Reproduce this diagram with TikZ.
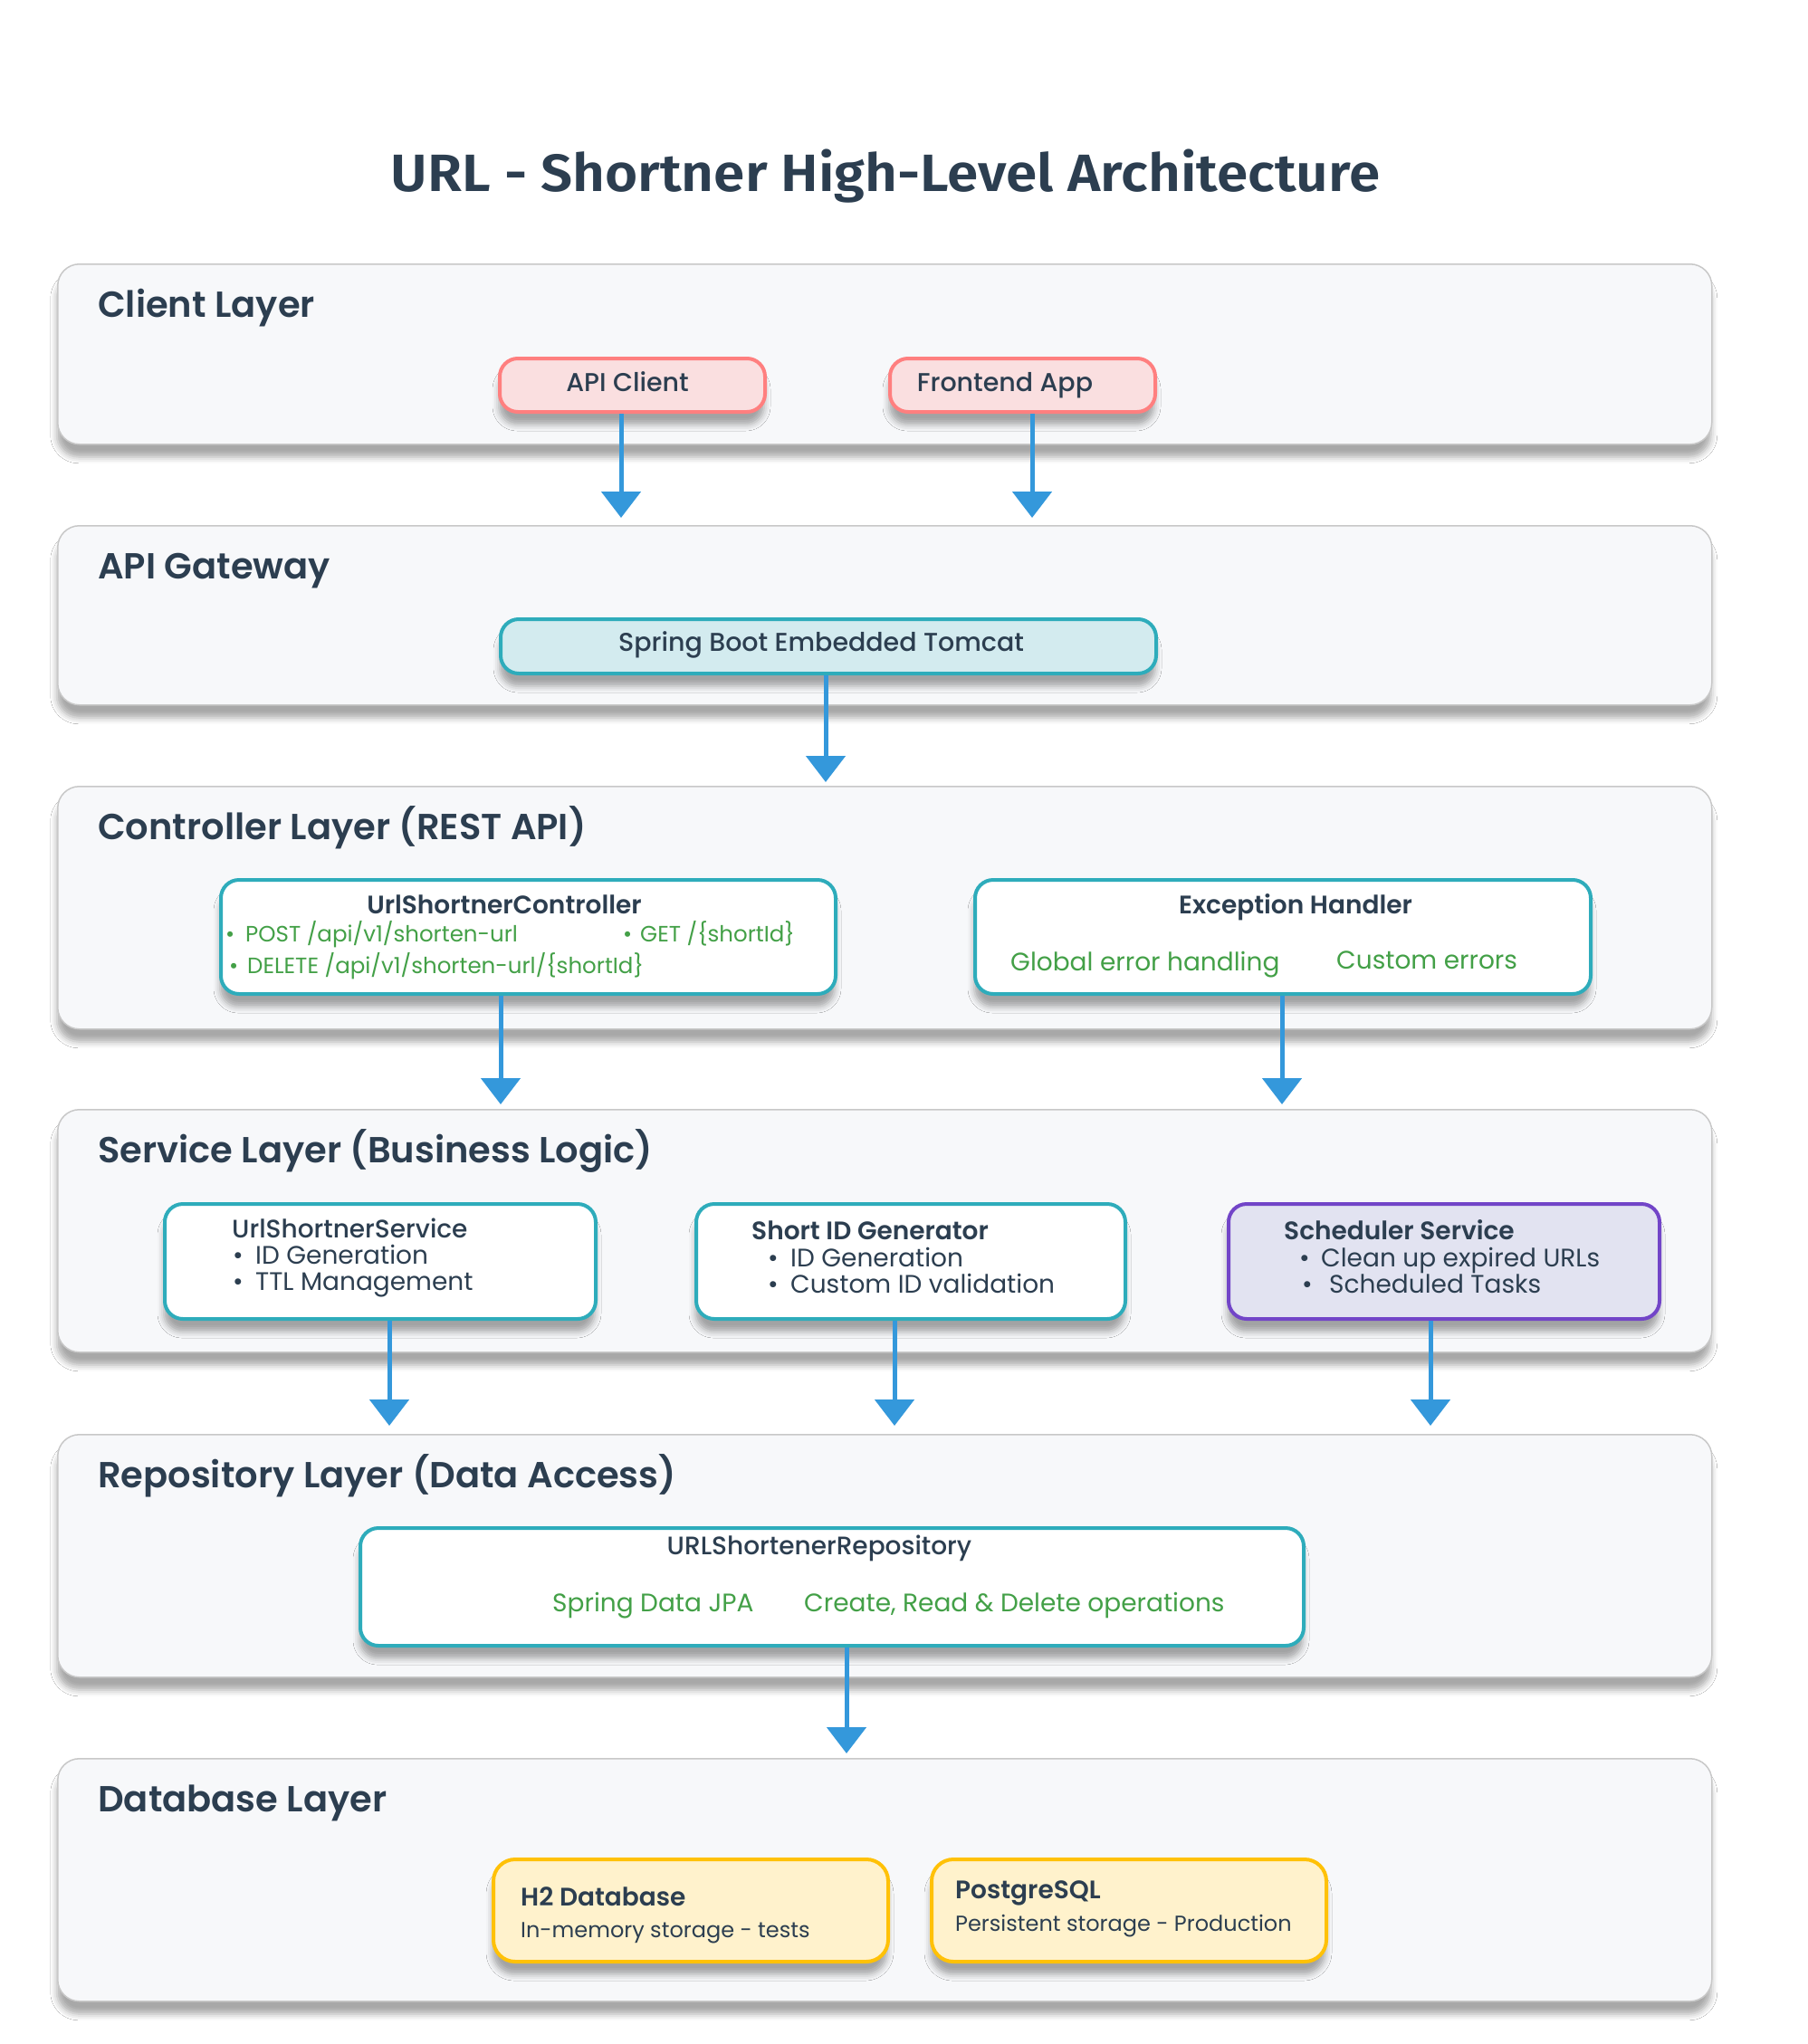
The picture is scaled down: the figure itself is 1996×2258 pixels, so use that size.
\documentclass[tikz,border=0pt]{standalone}
\usepackage{fontspec}
\setmainfont{Poppins}[BoldFont={* SemiBold}]
\newfontfamily\pmed{Poppins Medium}
\newfontfamily\psemi{Poppins SemiBold}
\newfontfamily\ptitle{Fira Sans SemiBold}[FakeStretch=1.07]
\usetikzlibrary{arrows.meta,shadows.blur}
\definecolor{txt}{HTML}{2C3E50}
\definecolor{layerfill}{HTML}{F7F8FA}
\definecolor{layerline}{HTML}{C8C8C8}
\definecolor{pinkfill}{HTML}{FADFE0}
\definecolor{pinkline}{HTML}{FF7F7F}
\definecolor{tealline}{HTML}{2EACBB}
\definecolor{cyanfill}{HTML}{D3EBEF}
\definecolor{greentxt}{HTML}{43A047}
\definecolor{purpleline}{HTML}{7245C8}
\definecolor{lavfill}{HTML}{E2E3F1}
\definecolor{yelfill}{HTML}{FFF2CC}
\definecolor{yelline}{HTML}{FFC107}
\definecolor{arrowblue}{HTML}{3498DB}
\tikzset{
  shad/.style={blur shadow={shadow xshift=-1pt, shadow yshift=-14pt, shadow blur radius=7pt, shadow opacity=34}},
  layer/.style={draw=layerline, line width=1.5pt, fill=layerfill, rounded corners=24pt, anchor=north west, inner sep=0pt, shad},
  box/.style={line width=4pt, rounded corners=20pt, anchor=north west, inner sep=0pt, shad},
  pinkbox/.style={box, draw=pinkline, fill=pinkfill},
  cyanbox/.style={box, draw=tealline, fill=cyanfill},
  whitebox/.style={box, draw=tealline, fill=white},
  purplebox/.style={box, draw=purpleline, fill=lavfill},
  yelbox/.style={box, draw=yelline, fill=yelfill, rounded corners=24pt},
  lt/.style={anchor=base west, inner sep=0pt, text=txt, font=\psemi\fontsize{40}{48}\selectfont},
  bt/.style={anchor=base, inner sep=0pt, text=txt, font=\pmed\fontsize{28.5}{34}\selectfont},
  hd/.style={inner sep=0pt, text=txt, font=\psemi\fontsize{28}{33}\selectfont},
  gs/.style={anchor=base west, inner sep=0pt, text=greentxt, font=\fontsize{24.5}{29}\selectfont},
  gl/.style={anchor=base west, inner sep=0pt, text=greentxt, font=\fontsize{28}{33}\selectfont},
  dk/.style={anchor=base west, inner sep=0pt, text=txt, font=\fontsize{28}{33}\selectfont},
  sm/.style={anchor=base west, inner sep=0pt, text=txt, font=\fontsize{24}{29}\selectfont},
  arr/.style={draw=arrowblue, line width=5pt, -{Triangle[width=43pt,length=29pt]}},
}
\begin{document}
\begin{tikzpicture}[x=1pt,y=-1pt]
\useasboundingbox[fill=white] (0,0) rectangle (1996,2258);
% title
\node[anchor=base, inner sep=0pt, text=txt, font=\ptitle\fontsize{58}{68}\selectfont] (title) at (978,212) {URL - Shortner High-Level Architecture};
% layers
\node[layer, minimum width=1827pt, minimum height=199pt] (client) at (63,291) {};
\node[layer, minimum width=1827pt, minimum height=198pt] (gateway) at (63,580) {};
\node[layer, minimum width=1827pt, minimum height=268pt] (controller) at (63,868) {};
\node[layer, minimum width=1827pt, minimum height=268pt] (service) at (63,1225) {};
\node[layer, minimum width=1827pt, minimum height=268pt] (repository) at (63,1584) {};
\node[layer, minimum width=1827pt, minimum height=268pt] (database) at (63,1942) {};
\node[lt] (lclient) at (108,350) {Client Layer};
\node[lt] (lgateway) at (108,639) {API Gateway};
\node[lt] (lcontroller) at (108,927) {Controller Layer (REST API)};
\node[lt] (lservice) at (108,1284) {Service Layer (Business Logic)};
\node[lt] (lrepository) at (108,1643) {Repository Layer (Data Access)};
\node[lt] (ldatabase) at (108,2001) {Database Layer};
% client boxes
\node[pinkbox, minimum width=293pt, minimum height=59pt] (apiclient) at (550,394) {};
\node[pinkbox, minimum width=293pt, minimum height=59pt] (frontend) at (981,394) {};
\node[bt] (tapiclient) at (693,432) {API Client};
\node[bt] (tfrontend) at (1110,432) {Frontend App};
% gateway
\node[cyanbox, minimum width=724pt, minimum height=60pt] (tomcat) at (551,682) {};
\node[bt] (ttomcat) at (907,719) {Spring Boot Embedded Tomcat};
% controller
\node[whitebox, minimum width=679pt, minimum height=126pt] (ctrl) at (242,970) {};
\node[whitebox, minimum width=680pt, minimum height=126pt] (exc) at (1075,970) {};
\node[hd, anchor=base] (tctrl) at (557,1009) {UrlShortnerController};
\node[gs] (b1) at (249,1040) {•};
\node[gs] (tpost) at (271,1040) {POST /api/v1/shorten-url};
\node[gs] (b2) at (688,1040) {•};
\node[gs] (tget) at (707,1040) {GET /\{shortId\}};
\node[gs] (b3) at (253,1075) {•};
\node[gs] (tdel) at (273,1075) {DELETE /api/v1/shorten-url/\{shortId\}};
\node[hd, anchor=base] (texc) at (1431,1009) {Exception Handler};
\node[gl] (tglob) at (1116,1072) {Global error handling};
\node[gl] (tcust) at (1476,1070) {Custom errors};
% service
\node[whitebox, minimum width=476pt, minimum height=127pt] (svc1) at (180,1328) {};
\node[whitebox, minimum width=474pt, minimum height=127pt] (svc2) at (767,1328) {};
\node[purplebox, minimum width=476pt, minimum height=127pt] (svc3) at (1355,1328) {};
\node[dk, font=\pmed\fontsize{28}{33}\selectfont] (tsvc1) at (256,1367) {UrlShortnerService};
\node[dk] (b4) at (257,1396) {•};
\node[dk] (tidg1) at (282,1396) {ID Generation};
\node[dk] (b5) at (257,1425) {•};
\node[dk] (tttl) at (282,1425) {TTL Management};
\node[hd, anchor=base west] (tsvc2) at (830,1369) {Short ID Generator};
\node[dk] (b6) at (848,1399) {•};
\node[dk] (tidg2) at (873,1399) {ID Generation};
\node[dk] (b7) at (848,1428) {•};
\node[dk] (tcid) at (873,1428) {Custom ID validation};
\node[hd, anchor=base west] (tsvc3) at (1418,1369) {Scheduler Service};
\node[dk] (b8) at (1435,1399) {•};
\node[dk] (tclean) at (1459,1399) {Clean up expired URLs};
\node[dk] (b9) at (1438,1428) {•};
\node[dk] (tsched) at (1468,1428) {Scheduled Tasks};
% repository
\node[whitebox, minimum width=1042pt, minimum height=130pt] (repo) at (396,1686) {};
\node[hd, anchor=base, font=\pmed\fontsize{28}{33}\selectfont] (trepo) at (905,1717) {URLShortenerRepository};
\node[gl] (tjpa) at (610,1780) {Spring Data JPA};
\node[gl] (tcrud) at (888,1780) {Create, Read \& Delete operations};
% database
\node[yelbox, minimum width=436pt, minimum height=113pt] (h2) at (543,2052) {};
\node[yelbox, minimum width=436pt, minimum height=113pt] (pg) at (1027,2052) {};
\node[hd, anchor=base west] (th2) at (575,2105) {H2 Database};
\node[sm] (th2s) at (575,2140) {In-memory storage - tests};
\node[hd, anchor=base west] (tpg) at (1055,2097) {PostgreSQL};
\node[sm] (tpgs) at (1055,2133) {Persistent storage - Production};
% arrow x positions
\coordinate (xa1) at (686,0);
\coordinate (xa2) at (1140,0);
\coordinate (xa3) at (912,0);
\coordinate (xa4) at (553,0);
\coordinate (xa5) at (1416,0);
\coordinate (xa6) at (430,0);
\coordinate (xa7) at (988,0);
\coordinate (xa8) at (1580,0);
\coordinate (xa9) at (935,0);
% arrows
\draw[arr, shorten >=8pt] (apiclient.south -| xa1) -- (xa1 |- gateway.north);
\draw[arr, shorten >=8pt] (frontend.south -| xa2) -- (xa2 |- gateway.north);
\draw[arr, shorten >=4pt] (tomcat.south -| xa3) -- (xa3 |- controller.north);
\draw[arr, shorten >=5pt] (ctrl.south -| xa4) -- (xa4 |- service.north);
\draw[arr, shorten >=5pt] (exc.south -| xa5) -- (xa5 |- service.north);
\draw[arr, shorten >=9pt] (svc1.south -| xa6) -- (xa6 |- repository.north);
\draw[arr, shorten >=9pt] (svc2.south -| xa7) -- (xa7 |- repository.north);
\draw[arr, shorten >=9pt] (svc3.south -| xa8) -- (xa8 |- repository.north);
\draw[arr, shorten >=5pt] (repo.south -| xa9) -- (xa9 |- database.north);
\end{tikzpicture}
\end{document}
